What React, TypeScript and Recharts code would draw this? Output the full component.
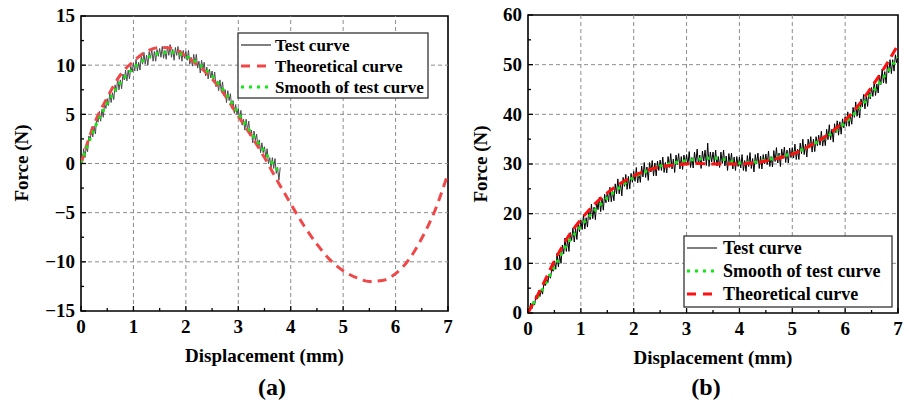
import { LineChart, Line, XAxis, YAxis, ReferenceLine, ReferenceArea } from 'recharts'

const FONT = '"Liberation Serif", "Times New Roman", serif'

// shared x grids
const X_TICKS = [0, 0.5, 1, 1.5, 2, 2.5, 3, 3.5, 4, 4.5, 5, 5.5, 6, 6.5, 7]
const X_GRID = [1, 2, 3, 4, 5, 6]
const DISP_Q = [0, 0.25, 0.5, 0.75, 1, 1.25, 1.5, 1.75, 2, 2.25, 2.5, 2.75, 3, 3.25, 3.5, 3.75, 4, 4.25, 4.5, 4.75, 5, 5.25, 5.5, 5.75, 6, 6.25, 6.5, 6.75, 7]
const TEST_STEP = 0.025 // sampling step of the measured curves (mm)

// (a)
const A_Y_TICKS = [-15, -12.5, -10, -7.5, -5, -2.5, 0, 2.5, 5, 7.5, 10, 12.5, 15]
const A_Y_GRID = [-10, -5, 0, 5, 10]
const A_TEST_FORCE = [
    0.2, 0.0, 1.5, 0.6, 1.7, 1.2, 2.8, 2.3, 3.7, 2.7, 3.8, 3.0, 4.7, 4.2, 5.3, 4.3, 5.5, 4.7, 6.1, 5.6,
    6.6, 5.9, 7.2, 6.2, 7.2, 6.5, 8.0, 7.3, 8.6, 7.5, 8.5, 7.6, 9.1, 8.5, 9.5, 8.4, 9.5, 8.6, 9.9, 9.3,
    10.2, 9.4, 10.6, 9.4, 10.3, 9.5, 10.9, 10.1, 11.3, 10.1, 11.0, 10.0, 11.4, 10.7, 11.6, 10.4, 11.4, 10.4, 11.6, 10.9,
    11.7, 10.8, 11.9, 10.7, 11.5, 10.6, 11.9, 11.0, 12.1, 10.8, 11.6, 10.5, 11.8, 11.0, 11.9, 10.6, 11.5, 10.4, 11.5, 10.7,
    11.4, 10.5, 11.5, 10.1, 10.8, 9.9, 11.1, 10.1, 11.1, 9.7, 10.4, 9.2, 10.5, 9.6, 10.3, 8.9, 9.8, 8.6, 9.6, 8.7,
    9.4, 8.4, 9.3, 7.8, 8.4, 7.4, 8.5, 7.4, 8.3, 6.9, 7.5, 6.2, 7.4, 6.4, 7.1, 5.6, 6.4, 5.1, 6.0, 5.0,
    5.6, 4.5, 5.4, 3.9, 4.5, 3.4, 4.5, 3.4, 4.3, 2.8, 3.4, 2.1, 3.3, 2.3, 3.0, 1.6, 2.4, 1.1, 2.1, 1.1,
    1.7, 0.6, 1.5, 0.0, 0.6, -0.5, 0.6, -0.5, 0.5, -1.0, -0.4, -1.7, -0.4
]
const A_SMOOTH_DISP = [0, 0.25, 0.5, 0.75, 1, 1.25, 1.5, 1.75, 2, 2.25, 2.5, 2.75, 3, 3.25, 3.5, 3.75, 3.8]
const A_SMOOTH_FORCE = [0, 3.5, 6.1, 8.2, 9.7, 10.7, 11.2, 11.3, 10.9, 10.1, 8.9, 7.2, 5.1, 3.1, 1.2, -0.7, -1.0]
const A_THEORY_FORCE = [
    0, 4.0, 6.7, 9.0, 10.4, 11.4, 11.8, 11.7, 10.9, 9.9, 8.6, 6.9, 4.8, 2.8, 0.6,
    -1.8, -4.1, -6.3, -8.2, -9.8, -10.9, -11.6, -12.0, -11.9, -11.2, -9.8, -7.6, -4.8, -1.0
]

// (b)
const B_Y_TICKS = [0, 5, 10, 15, 20, 25, 30, 35, 40, 45, 50, 55, 60]
const B_Y_GRID = [10, 20, 30, 40, 50]
const B_TEST_FORCE = [
    0.6, 0.4, 2.0, 0.9, 2.3, 1.6, 3.5, 2.8, 4.5, 3.3, 4.7, 3.8, 6.0, 5.5, 7.1, 6.1, 7.8, 7.0, 8.9, 8.4,
    10.5, 8.8, 12.0, 9.3, 11.7, 10.0, 13.7, 11.9, 15.1, 12.4, 14.8, 12.4, 16.2, 14.6, 17.1, 14.3, 17.1, 14.8, 18.0, 16.4,
    18.7, 16.8, 19.8, 16.9, 19.2, 17.3, 20.8, 18.8, 21.9, 19.0, 21.3, 18.8, 22.5, 20.8, 23.3, 20.4, 23.1, 20.7, 23.9, 22.2,
    24.4, 22.4, 25.3, 22.4, 24.6, 22.6, 26.0, 24.0, 27.0, 24.0, 26.2, 23.6, 27.3, 25.5, 27.9, 24.9, 27.5, 25.0, 28.1, 26.3,
    28.5, 26.5, 29.3, 26.2, 28.3, 26.3, 29.6, 27.4, 30.3, 27.3, 29.4, 26.7, 30.3, 28.4, 30.7, 27.6, 30.2, 27.6, 30.6, 28.7,
    30.8, 28.7, 31.4, 28.3, 30.3, 28.2, 31.5, 29.3, 32.1, 29.0, 31.0, 28.3, 31.8, 29.9, 32.1, 29.0, 31.5, 28.9, 31.8, 29.9,
    31.9, 29.8, 32.5, 29.3, 31.3, 29.2, 32.4, 30.2, 33.0, 29.8, 31.8, 29.1, 32.6, 30.6, 32.8, 29.7, 34.2, 29.5, 32.4, 30.4,
    32.4, 30.2, 32.8, 29.6, 31.5, 29.3, 32.4, 30.1, 32.8, 29.6, 31.6, 28.7, 32.1, 30.1, 32.2, 29.0, 31.4, 28.7, 31.5, 29.5,
    31.4, 29.2, 31.9, 28.7, 30.7, 28.5, 31.7, 29.5, 32.3, 29.1, 31.1, 28.4, 31.9, 30.0, 32.2, 29.1, 31.6, 29.0, 31.9, 30.0,
    32.0, 29.9, 32.6, 29.5, 31.5, 29.4, 32.7, 30.5, 33.3, 30.2, 32.2, 29.5, 33.0, 31.1, 33.4, 30.3, 32.8, 30.2, 33.2, 31.3,
    33.3, 31.2, 34.0, 30.9, 33.0, 30.9, 34.2, 32.1, 35.0, 31.9, 34.0, 31.4, 35.0, 33.2, 35.5, 32.4, 35.0, 32.5, 35.5, 33.7,
    35.8, 33.8, 36.6, 33.6, 35.7, 33.7, 37.0, 34.9, 37.9, 34.9, 37.0, 34.4, 38.1, 36.3, 38.7, 35.8, 38.5, 36.0, 39.1, 37.3,
    39.5, 37.6, 40.5, 37.6, 39.9, 38.0, 41.4, 39.4, 42.5, 39.6, 41.8, 39.3, 43.1, 41.5, 44.0, 41.1, 43.9, 41.6, 44.8, 43.1,
    45.4, 43.6, 46.6, 43.8, 46.1, 44.3, 47.9, 46.0, 49.1, 46.3, 48.6, 46.2, 50.0, 48.4, 51.0, 48.2, 51.0, 48.7, 52.0, 50.4,
    51.8
]
const B_SMOOTH_FORCE = [
    0.5, 4.3, 9.3, 14.0, 17.5, 20.5, 23.2, 25.4, 27.3, 28.6, 29.6, 30.2, 30.7, 31.0, 31.2,
    30.8, 30.2, 30.3, 30.8, 31.4, 32.1, 33.2, 34.6, 36.2, 38.3, 41.0, 44.2, 47.8, 51.5
]
const B_THEORY_FORCE = [
    0, 5.0, 10.5, 15.2, 18.8, 21.8, 24.2, 26.1, 27.6, 28.7, 29.4, 29.8, 30.0, 30.1, 30.0,
    30.0, 30.0, 30.2, 30.6, 31.2, 32.0, 33.2, 34.7, 36.5, 38.8, 41.8, 45.5, 49.5, 54.0
]

const fmt = (v: number) => (v < 0 ? `\u2212${Math.abs(v)}` : `${v}`)
const pairs = (xs: number[], ys: number[]) => ys.map((y, i) => ({ x: xs[i], y }))
const sampled = (ys: number[]) => ys.map((y, i) => ({ x: +(i * TEST_STEP).toFixed(3), y }))

const textStyle = { fontFamily: FONT, fontWeight: 700, fill: '#000' }

// ticks point inward; minor ticks (halves) carry no label
const makeXTick = () => (props: any) => {
    const { x, y, payload } = props
    const major = Number.isInteger(payload.value)
    return (
        <g>
            <line x1={x} x2={x} y1={y} y2={y - (major ? 5 : 3)} stroke="#000" strokeWidth={1.3} />
            {major && (
                <text x={x} y={y + 22} textAnchor="middle" fontSize={19} style={textStyle}>
                    {payload.value}
                </text>
            )}
        </g>
    )
}

const makeYTick = (step: number) => (props: any) => {
    const { x, y, payload } = props
    const major = payload.value % step === 0
    return (
        <g>
            <line x1={x} x2={x + (major ? 5 : 3)} y1={y} y2={y} stroke="#000" strokeWidth={1.3} />
            {major && (
                <text x={x - 6} y={y} dy="0.34em" textAnchor="end" fontSize={19} style={textStyle}>
                    {fmt(payload.value)}
                </text>
            )}
        </g>
    )
}

type Panel = {
    left: number
    yWidth: number
    margin: { top: number; right: number; left: number; bottom: number }
    yDomain: [number, number]
    yTicks: number[]
    yGrid: number[]
    yStep: number
    children: React.ReactNode
}

function ForcePanel({ left, yWidth, margin, yDomain, yTicks, yGrid, yStep, children }: Panel) {
    return (
        <div style={{ position: 'absolute', left, top: 0 }}>
            <LineChart width={460} height={400} margin={margin}>
                <XAxis
                    type="number"
                    dataKey="x"
                    domain={[0, 7]}
                    ticks={X_TICKS}
                    interval={0}
                    allowDataOverflow
                    axisLine={false}
                    tickLine={false}
                    tickSize={0}
                    tickMargin={0}
                    height={30}
                    tick={makeXTick()}
                />
                <YAxis
                    type="number"
                    domain={yDomain}
                    ticks={yTicks}
                    interval={0}
                    allowDataOverflow
                    axisLine={false}
                    tickLine={false}
                    tickSize={0}
                    tickMargin={0}
                    width={yWidth}
                    tick={makeYTick(yStep)}
                />
                {X_GRID.map(v => (
                    <ReferenceLine key={'gx' + v} x={v} stroke="#8c8c8c" strokeDasharray="4 3" />
                ))}
                {yGrid.map(v => (
                    <ReferenceLine key={'gy' + v} y={v} stroke="#8c8c8c" strokeDasharray="4 3" />
                ))}
                {children}
                <ReferenceArea x1={0} x2={7} y1={yDomain[0]} y2={yDomain[1]} fill="none" fillOpacity={0}
                    stroke="#000" strokeWidth={1.6} />
            </LineChart>
        </div>
    )
}

type LegendRow = { label: string; color: string; dash?: string; width: number }

function LegendBox({ x, y, w, h, rows, gap, fontSize, textX }: {
    x: number; y: number; w: number; h: number; rows: LegendRow[]; gap: number; fontSize: number; textX: number
}) {
    return (
        <g>
            <rect x={x} y={y} width={w} height={h} fill="#fff" stroke="#333" strokeWidth={1.3} />
            {rows.map((r, i) => {
                const cy = y + 12 + i * gap
                return (
                    <g key={r.label}>
                        <line x1={x + 3} x2={x + 33} y1={cy} y2={cy} stroke={r.color} strokeWidth={r.width}
                            strokeDasharray={r.dash} />
                        <text x={x + textX} y={cy} dy="0.33em" fontSize={fontSize} style={textStyle}>{r.label}</text>
                    </g>
                )
            })}
        </g>
    )
}

const RED_A = '#f04848'
const RED_B = '#ff1010'
const GREEN = '#10e810'

export default function App() {
    return (
        <div style={{ position: 'absolute', left: 0, top: 0, width: 909, height: 400, background: '#fff' }}>
            <ForcePanel left={0} yWidth={81} margin={{ top: 16, right: 12, left: 0, bottom: 59 }}
                yDomain={[-15, 15]} yTicks={A_Y_TICKS} yGrid={A_Y_GRID} yStep={5}>
                <Line data={sampled(A_TEST_FORCE)} dataKey="y" type="linear" stroke="#4a4a4a" strokeWidth={1}
                    dot={false} isAnimationActive={false} />
                <Line data={pairs(DISP_Q, A_THEORY_FORCE)} dataKey="y" type="monotone" stroke={RED_A}
                    strokeWidth={3} strokeDasharray="9 6" dot={false} isAnimationActive={false} />
                <Line data={pairs(A_SMOOTH_DISP, A_SMOOTH_FORCE)} dataKey="y" type="monotone" stroke={GREEN}
                    strokeWidth={3} strokeDasharray="3 5" dot={false} isAnimationActive={false} />
            </ForcePanel>
            <ForcePanel left={449} yWidth={79} margin={{ top: 15, right: 11, left: 0, bottom: 57 }}
                yDomain={[0, 60]} yTicks={B_Y_TICKS} yGrid={B_Y_GRID} yStep={10}>
                <Line data={sampled(B_TEST_FORCE)} dataKey="y" type="linear" stroke="#000" strokeWidth={1}
                    dot={false} isAnimationActive={false} />
                <Line data={pairs(DISP_Q, B_SMOOTH_FORCE)} dataKey="y" type="monotone" stroke={GREEN}
                    strokeWidth={3} strokeDasharray="3 5" dot={false} isAnimationActive={false} />
                <Line data={pairs(DISP_Q, B_THEORY_FORCE)} dataKey="y" type="monotone" stroke={RED_B}
                    strokeWidth={3} strokeDasharray="10 6" dot={false} isAnimationActive={false} />
            </ForcePanel>
            <svg width={909} height={400} style={{ position: 'absolute', left: 0, top: 0, pointerEvents: 'none' }}>
                <text x={28} y={163} transform="rotate(-90 28 163)" textAnchor="middle" fontSize={19} style={textStyle}>Force (N)</text>
                <text x={264.5} y={362} textAnchor="middle" fontSize={19} style={textStyle}>Displacement (mm)</text>
                <text x={272} y={395} textAnchor="middle" fontSize={24} style={textStyle}>(a)</text>
                <text x={487} y={164} transform="rotate(-90 487 164)" textAnchor="middle" fontSize={19} style={textStyle}>Force (N)</text>
                <text x={713} y={364} textAnchor="middle" fontSize={19} style={textStyle}>Displacement (mm)</text>
                <text x={706} y={395} textAnchor="middle" fontSize={24} style={textStyle}>(b)</text>
                <LegendBox x={238} y={33} w={190} h={65} gap={21} fontSize={17} textX={37} rows={[
                    { label: 'Test curve', color: '#555', width: 1.5 },
                    { label: 'Theoretical curve', color: RED_A, dash: '9 7', width: 3 },
                    { label: 'Smooth of test curve', color: GREEN, dash: '3 5', width: 3 }
                ]} />
                <LegendBox x={684} y={236} w={208} h={71} gap={23} fontSize={18} textX={39} rows={[
                    { label: 'Test curve', color: '#555', width: 1.5 },
                    { label: 'Smooth of test curve', color: GREEN, dash: '3 5', width: 3 },
                    { label: 'Theoretical curve', color: RED_B, dash: '9 7', width: 3 }
                ]} />
            </svg>
        </div>
    )
}
